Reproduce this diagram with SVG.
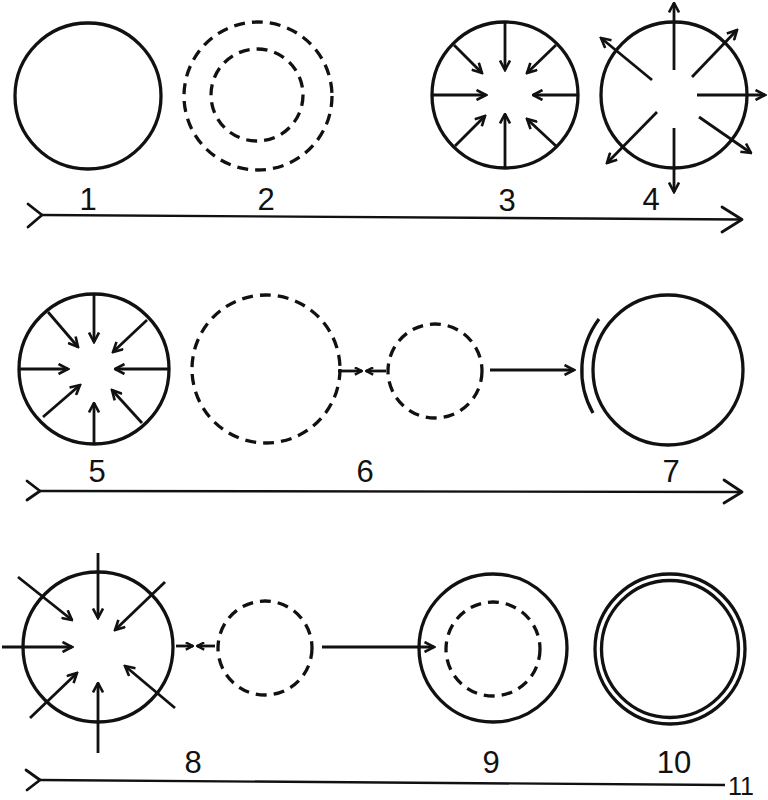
<svg xmlns="http://www.w3.org/2000/svg" width="768" height="800" viewBox="0 0 768 800">
<style>
.c{fill:none;stroke:#111;stroke-width:3.3}
.d{fill:none;stroke:#111;stroke-width:3.3;stroke-dasharray:11 7}
.a{fill:none;stroke:#111;stroke-width:2.8;marker-end:url(#ah)}
.s{fill:none;stroke:#111;stroke-width:2.8;marker-end:url(#sh)}
.l{fill:none;stroke:#111;stroke-width:2.4}
.t{fill:none;stroke:#111;stroke-width:2.8;stroke-linecap:round;stroke-linejoin:round}
text{font-family:"Liberation Sans",Arial,sans-serif;font-size:31px;fill:#111;text-anchor:middle}
</style>
<defs>
<marker id="ah" viewBox="0 0 12 12" refX="10.5" refY="6" markerWidth="12" markerHeight="12" markerUnits="userSpaceOnUse" orient="auto">
<path d="M1,1 L10.5,6 L1,11" fill="none" stroke="#111" stroke-width="2.6"/>
</marker>
<marker id="sh" viewBox="0 0 10 10" refX="9" refY="5" markerWidth="9" markerHeight="9" markerUnits="userSpaceOnUse" orient="auto">
<path d="M1,1 L9,5 L1,9" fill="none" stroke="#111" stroke-width="2.6"/>
</marker>
</defs>

<g id="n1"><circle class="c" cx="88" cy="96" r="73"/><text x="88" y="210">1</text></g>
<g id="n2"><circle class="d" cx="258" cy="96" r="74"/><circle class="d" cx="257" cy="95" r="46"/><text x="266" y="210">2</text></g>
<g id="n3"><circle class="c" cx="505" cy="95" r="73"/>
<line class="a" x1="505" y1="22" x2="505" y2="70"/>
<line class="a" x1="505" y1="168" x2="505" y2="114"/>
<line class="a" x1="432" y1="95" x2="486" y2="95"/>
<line class="a" x1="578" y1="95" x2="533" y2="95"/>
<line class="a" x1="454" y1="45" x2="482" y2="73"/>
<line class="a" x1="556" y1="45" x2="527" y2="73"/>
<line class="a" x1="455" y1="146" x2="485" y2="116"/>
<line class="a" x1="556" y1="146" x2="527" y2="119"/>
<text x="507" y="211">3</text></g>
<g id="n4"><circle class="c" cx="674" cy="95" r="73"/>
<line class="a" x1="674" y1="70" x2="674" y2="3"/>
<line class="a" x1="692" y1="77" x2="737" y2="30"/>
<line class="a" x1="697" y1="95" x2="765" y2="95"/>
<line class="a" x1="699" y1="117" x2="751" y2="153"/>
<line class="a" x1="674" y1="128" x2="674" y2="192"/>
<line class="a" x1="657" y1="112" x2="607" y2="163"/>
<line class="a" x1="652" y1="80" x2="601" y2="38"/>
<text x="651" y="210">4</text></g>

<g id="n5"><circle class="c" cx="94" cy="369" r="75"/>
<line class="a" x1="94" y1="294" x2="94" y2="342"/>
<line class="a" x1="94" y1="444" x2="94" y2="403"/>
<line class="a" x1="19" y1="369" x2="68" y2="369"/>
<line class="a" x1="169" y1="369" x2="115" y2="369"/>
<line class="a" x1="48" y1="312" x2="78" y2="347"/>
<line class="a" x1="147" y1="320" x2="113" y2="352"/>
<line class="a" x1="43" y1="417" x2="80" y2="385"/>
<line class="a" x1="142" y1="423" x2="112" y2="390"/>
<text x="97" y="482">5</text></g>
<g id="n6"><circle class="d" cx="266" cy="369" r="74"/><circle class="d" cx="435" cy="371" r="47"/><text x="365" y="482">6</text></g>
<g id="n7"><circle class="c" cx="668" cy="370" r="75"/><path class="c" d="M599,319 A86,86 0 0 0 593,413"/><text x="671" y="482">7</text></g>

<g id="n8"><circle class="c" cx="98" cy="647" r="75"/>
<line class="a" x1="98" y1="553" x2="98" y2="618"/>
<line class="a" x1="2" y1="647" x2="72" y2="647"/>
<line class="a" x1="98" y1="753" x2="98" y2="683"/>
<line class="a" x1="18" y1="577" x2="72" y2="620"/>
<line class="a" x1="165" y1="582" x2="115" y2="630"/>
<line class="a" x1="30" y1="718" x2="77" y2="673"/>
<line class="a" x1="175" y1="708" x2="125" y2="666"/>
<circle class="d" cx="265" cy="648" r="47"/>
<text x="193" y="773">8</text></g>
<g id="n9"><circle class="c" cx="493" cy="648" r="74"/><circle class="d" cx="493" cy="649" r="47"/><text x="491" y="773">9</text></g>
<g id="n10"><circle class="c" cx="670" cy="649" r="75"/><circle class="c" cx="670" cy="649" r="68.5"/><text x="674" y="773">10</text></g>

<g id="connectors">
<line class="s" x1="338" y1="371" x2="362" y2="371"/>
<line class="s" x1="386" y1="371" x2="366" y2="371"/>
<line class="a" x1="490" y1="370" x2="574" y2="370"/>
<line class="s" x1="176" y1="646" x2="193" y2="646"/>
<line class="s" x1="215" y1="646" x2="197" y2="646"/>
<line class="a" x1="322" y1="647" x2="434" y2="647"/>
<path class="t" d="M28,204 L42,215 L28,227"/>
<line class="l" x1="42" y1="215" x2="741" y2="219.5"/>
<path class="t" d="M722,207 L742,219.5 L722,232"/>
<path class="t" d="M27,481 L40,491 L27,500"/>
<line class="l" x1="40" y1="491" x2="741" y2="492"/>
<path class="t" d="M724,480 L742,492 L724,503"/>
<path class="t" d="M26,770 L40,780 L27,790"/>
<line class="l" x1="40" y1="780" x2="725" y2="785"/>
</g>
<text x="741" y="795" style="font-size:25px">11</text>
</svg>
